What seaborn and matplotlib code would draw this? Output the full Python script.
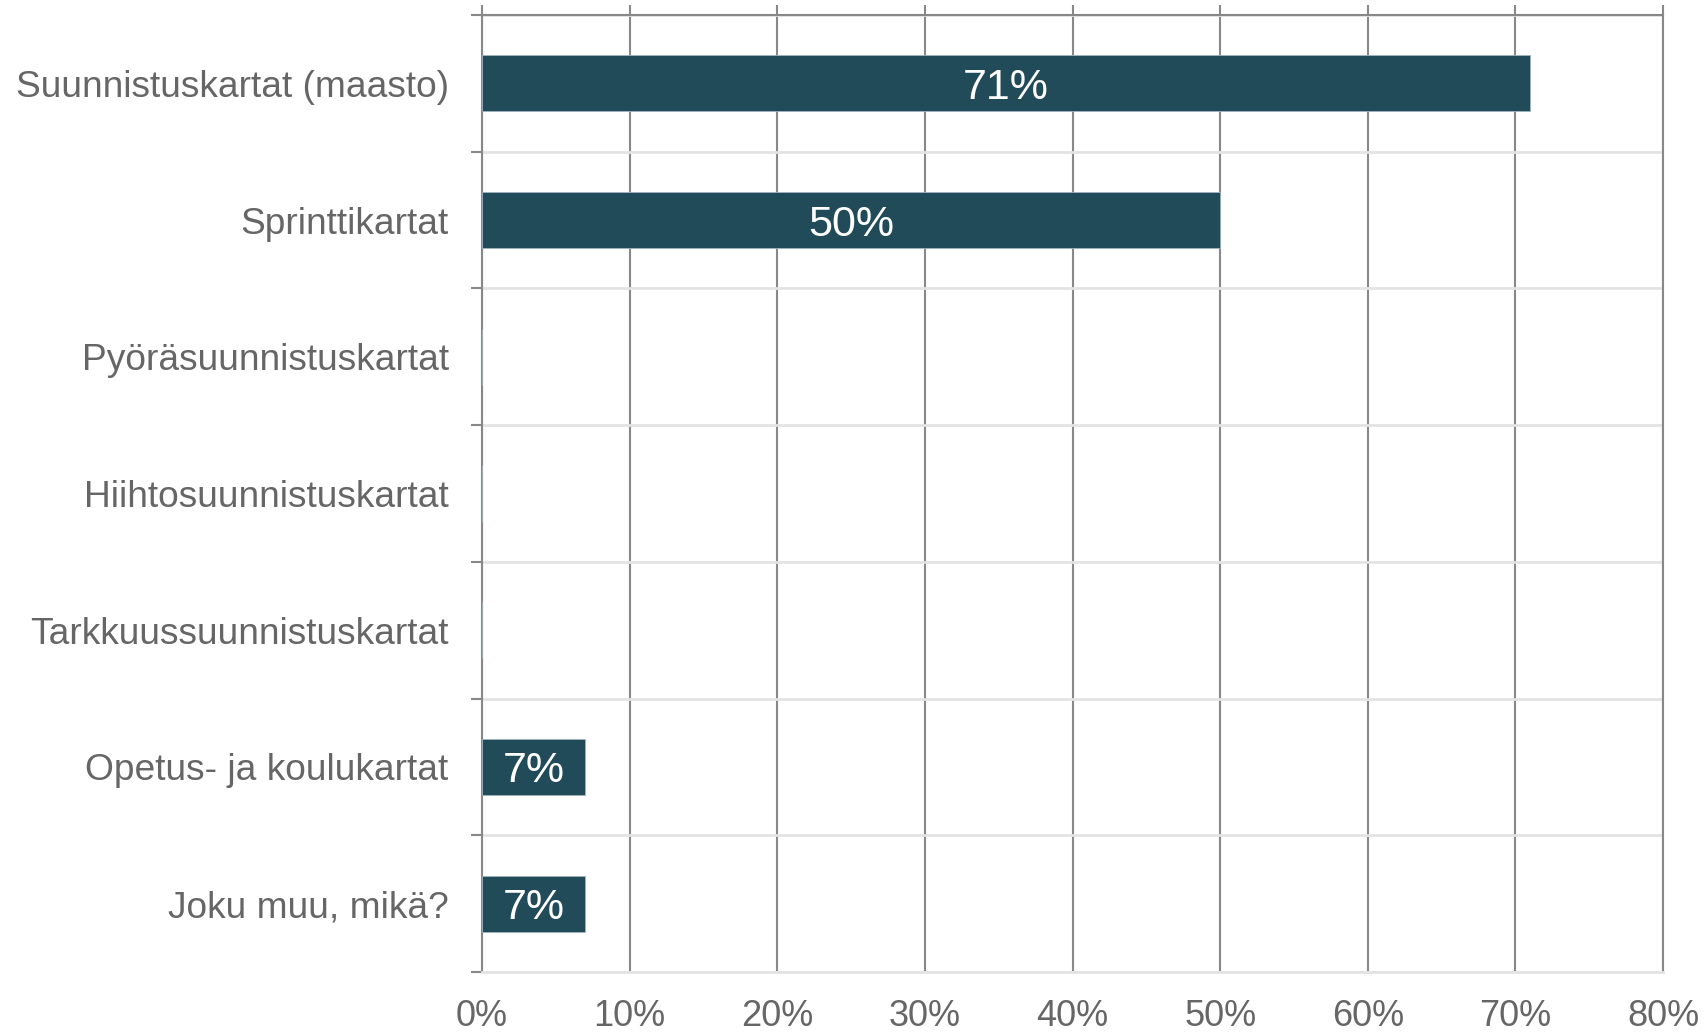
import matplotlib
matplotlib.use("Agg")
import matplotlib.pyplot as plt
import seaborn as sns
import pandas as pd
import numpy as np
from matplotlib.ticker import FixedLocator, PercentFormatter

categories = ["Suunnistuskartat (maasto)", "Sprinttikartat", "Pyöräsuunnistuskartat",
              "Hiihtosuunnistuskartat", "Tarkkuussuunnistuskartat", "Opetus- ja koulukartat",
              "Joku muu, mikä?"]
values = [71, 50, 0, 0, 0, 7, 7]
labels = ["71%", "50%", "", "", "", "7%", "7%"]
x_ticks = [0, 10, 20, 30, 40, 50, 60, 70, 80]

sns.set_theme(style="white")
plt.rcParams['font.family'] = ['Liberation Sans', 'DejaVu Sans']

df = pd.DataFrame({"cat": categories, "val": values})

fig = plt.figure(figsize=(17.06, 10.34), dpi=100)
ax = fig.add_axes([482/1706, 1 - 972/1034, (1663-482)/1706, (972-15)/1034])

sns.barplot(data=df, x="val", y="cat", orient="h", color="#224b5a", width=0.41,
            edgecolor="#9fb4bc", linewidth=0.6, saturation=1, ax=ax, zorder=3)

ax.set_xlim(0, 80)
ax.set_ylim(len(categories) - 0.5, -0.5)
ax.set_xticks(x_ticks)
ax.xaxis.set_major_formatter(PercentFormatter(decimals=0))
ax.grid(axis="x", color="#888888", linewidth=1.5, zorder=1)

# horizontal separators at category boundaries
bounds = np.arange(-0.5, len(categories), 1.0)
ax.yaxis.set_minor_locator(FixedLocator(bounds))
ax.grid(axis="y", which="minor", color="#e3e3e3", linewidth=2, zorder=1)
ax.grid(axis="y", which="major", visible=False)

ax.set_xlabel("")
ax.set_ylabel("")

ax.tick_params(axis="y", which="major", length=0, pad=24, labelsize=26.7, labelcolor="#666666")
ax.tick_params(axis="y", which="minor", length=8, width=1.5, color="#888888", left=True)
ax.tick_params(axis="x", which="major", bottom=False, top=True, labeltop=False, labelbottom=True,
               length=7.5, width=1.5, color="#888888", direction="out",
               labelsize=26, labelcolor="#666666", pad=12)

for side in ["left", "top", "right"]:
    ax.spines[side].set_color("#888888")
    ax.spines[side].set_linewidth(1.5)
ax.spines["bottom"].set_color("#e3e3e3")
ax.spines["bottom"].set_linewidth(2)

for c in ax.containers:
    texts = ax.bar_label(c, labels=labels, label_type="center", color="white", fontsize=31)
    for t in texts:
        t.set_verticalalignment("center_baseline")

fig.savefig("out.png", dpi=100)
